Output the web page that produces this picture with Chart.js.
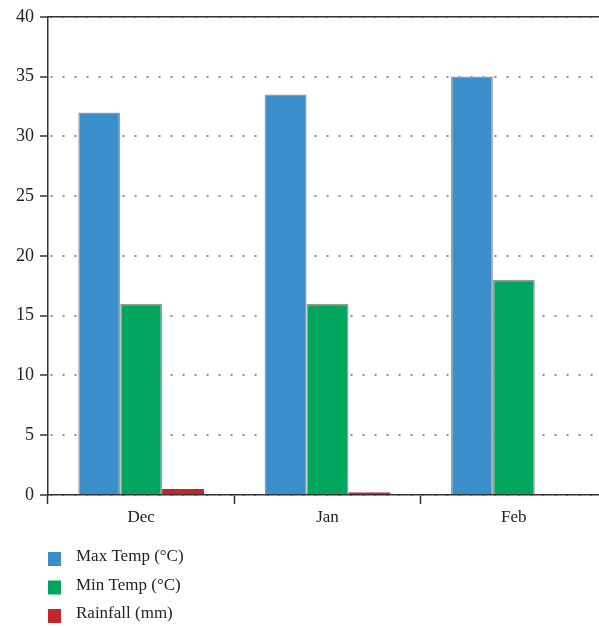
<!DOCTYPE html>
<html>
<head>
<meta charset="utf-8">
<script src="https://cdn.jsdelivr.net/npm/chart.js@4"></script>
<style>
  html, body { margin: 0; padding: 0; background: #fff; overflow: hidden; }
  canvas { display: block; }
</style>
</head>
<body>
<canvas id="climateChart" width="607" height="627"></canvas>
<script>
var months = ['Dec', 'Jan', 'Feb'];
var maxTemp = [32, 33.5, 35];
var minTemp = [16, 16, 18];
var rainfall = [0.5, 0.2, 0];
var seriesNames = ['Max Temp (°C)', 'Min Temp (°C)', 'Rainfall (mm)'];

var serif = "'Liberation Serif', 'DejaVu Serif', serif";

// draws the top frame line and the stacked legend under the plot
var frameAndLegend = {
  id: 'frameAndLegend',
  afterDraw: function (chart) {
    var ctx = chart.ctx;
    var area = chart.chartArea;
    ctx.save();
    ctx.strokeStyle = '#333';
    ctx.lineWidth = 1.5;
    ctx.setLineDash([]);
    ctx.beginPath();
    ctx.moveTo(area.left, area.top);
    ctx.lineTo(chart.width, area.top);
    ctx.stroke();

    ctx.font = '17px ' + serif;
    ctx.textBaseline = 'middle';
    ctx.textAlign = 'left';
    chart.data.datasets.forEach(function (ds, i) {
      var y = area.bottom + 64 + i * 28.5;
      ctx.fillStyle = ds.backgroundColor;
      ctx.fillRect(48, y - 7, 13, 14);
      ctx.fillStyle = '#222';
      ctx.fillText(ds.label, 76, y - 2);
    });
    ctx.restore();
  }
};

var ctx = document.getElementById('climateChart').getContext('2d');
var chart = new Chart(ctx, {
  type: 'bar',
  data: {
    labels: months,
    datasets: [{
      label: seriesNames[0],
      data: maxTemp,
      backgroundColor: '#3a8fca',
      borderColor: '#9a9a9a',
      borderWidth: 1.5
    }, {
      label: seriesNames[1],
      data: minTemp,
      backgroundColor: '#00a65e',
      borderColor: '#9a9a9a',
      borderWidth: 1.5
    }, {
      label: seriesNames[2],
      data: rainfall,
      backgroundColor: '#c1272d',
      borderWidth: 0
    }]
  },
  options: {
    responsive: false,
    animation: false,
    layout: { padding: { top: 16, right: 0, bottom: 92, left: 0 } },
    datasets: {
      bar: { categoryPercentage: 0.675, barPercentage: 1.0 }
    },
    plugins: {
      legend: { display: false },
      tooltip: { enabled: false }
    },
    scales: {
      x: {
        offset: true,
        border: { display: true, color: '#333', width: 1.5 },
        grid: {
          offset: true,
          drawOnChartArea: false,
          drawTicks: true,
          tickLength: 9,
          tickColor: '#333',
          tickWidth: 1.5
        },
        ticks: {
          color: '#222',
          padding: 3,
          font: { family: serif, size: 17 }
        },
        afterFit: function (scale) { scale.height = 40; }
      },
      y: {
        min: 0,
        max: 40,
        border: { display: true, color: '#333', width: 1.5, dash: [2, 10], dashOffset: -2 },
        grid: {
          color: '#8f8f8f',
          lineWidth: 2,
          tickColor: '#333',
          tickWidth: 1.5,
          tickBorderDash: [],
          tickLength: 8
        },
        ticks: {
          stepSize: 5,
          color: '#222',
          padding: 6,
          font: { family: serif, size: 18 }
        },
        afterFit: function (scale) { scale.width = 48; }
      }
    }
  },
  plugins: [frameAndLegend]
});
</script>
</body>
</html>
